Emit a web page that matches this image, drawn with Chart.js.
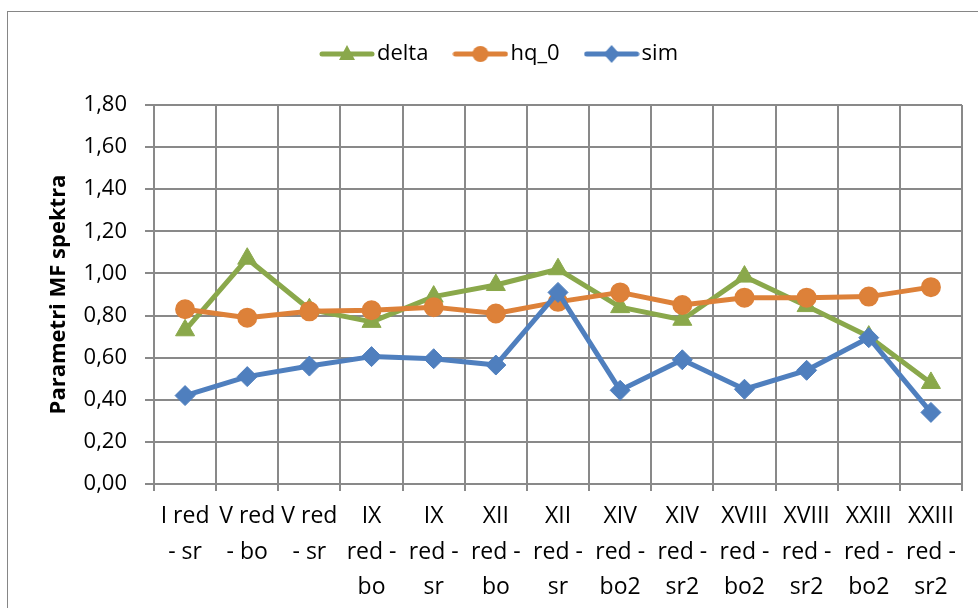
<!DOCTYPE html>
<html>
<head>
<meta charset="utf-8">
<script src="https://cdn.jsdelivr.net/npm/chart.js@4.4.1/dist/chart.umd.min.js"></script>
<style>
    html, body { margin: 0; padding: 0; background: #fff; overflow: hidden; }
    body { width: 978px; height: 608px; position: relative; }
    #frame { position: absolute; left: 7px; top: 11px; width: 1000px; height: 640px; border: 1px solid #868686; box-sizing: border-box; }
    #wrap { position: absolute; left: 0; top: 0; width: 978px; height: 608px; }
</style>
</head>
<body>
<div id="frame"></div>
<div id="wrap"><canvas id="chartMF" width="978" height="608"></canvas></div>
<script>
// Kategorije (oznake x osi, po redovima)
const kategorije = [
    ['I red', '- sr'],
    ['V red', '- bo'],
    ['V red', '- sr'],
    ['IX', 'red -', 'bo'],
    ['IX', 'red -', 'sr'],
    ['XII', 'red -', 'bo'],
    ['XII', 'red -', 'sr'],
    ['XIV', 'red -', 'bo2'],
    ['XIV', 'red -', 'sr2'],
    ['XVIII', 'red -', 'bo2'],
    ['XVIII', 'red -', 'sr2'],
    ['XXIII', 'red -', 'bo2'],
    ['XXIII', 'red -', 'sr2']
];

// Vrijednosti serija
const deltaVrijednosti = [0.73, 1.07, 0.83, 0.77, 0.89, 0.945, 1.02, 0.84, 0.78, 0.985, 0.845, 0.70, 0.48];
const hq0Vrijednosti   = [0.83, 0.79, 0.82, 0.825, 0.84, 0.81, 0.865, 0.91, 0.85, 0.885, 0.885, 0.89, 0.935];
const simVrijednosti   = [0.42, 0.51, 0.56, 0.605, 0.595, 0.565, 0.91, 0.445, 0.59, 0.45, 0.54, 0.695, 0.34];

// Y os
const yMin = 0;
const yMax = 1.8;
const yKorak = 0.2;

const ZELENA = '#8AA84B';
const NARANCASTA = '#DD8139';
const PLAVA = '#4F7FBE';
const MREZA = '#898989';
const FONT = "'Open Sans', 'Noto Sans', sans-serif";

// Ikona za legendu: linija s markerom u sredini
function napraviIkonu(boja, oblik) {
    const c = document.createElement('canvas');
    c.width = 56;
    c.height = 24;
    const g = c.getContext('2d');
    g.strokeStyle = boja;
    g.fillStyle = boja;
    g.lineWidth = 5;
    g.lineCap = 'round';
    g.beginPath();
    g.moveTo(3, 12);
    g.lineTo(53, 12);
    g.stroke();

    g.beginPath();
    if (oblik === 'triangle') {
        g.moveTo(28, 3);
        g.lineTo(36, 18);
        g.lineTo(20, 18);
        g.closePath();
    } else if (oblik === 'circle') {
        g.arc(28, 12, 8, 0, Math.PI * 2);
    } else {
        g.moveTo(28, 3);
        g.lineTo(36, 12);
        g.lineTo(28, 21);
        g.lineTo(20, 12);
        g.closePath();
    }
    g.fill();
    return c;
}

const ikone = [
    napraviIkonu(ZELENA, 'triangle'),
    napraviIkonu(NARANCASTA, 'circle'),
    napraviIkonu(PLAVA, 'rectRot')
];

// Dodatni razmak ispod legende
const razmakLegende = {
    id: 'razmakLegende',
    beforeLayout(chart) {
        const lg = chart.legend;
        if (lg && !lg._razmak) {
            const fit = lg.fit;
            lg.fit = function () {
                fit.call(this);
                this.height += 30;
            };
            lg._razmak = true;
        }
    }
};

const ctx = document.getElementById('chartMF');

new Chart(ctx, {
    type: 'line',
    data: {
        labels: kategorije,
        datasets: [
            {
                label: 'delta',
                data: deltaVrijednosti,
                borderColor: ZELENA,
                backgroundColor: ZELENA,
                borderWidth: 5,
                borderJoinStyle: 'round',
                pointStyle: 'triangle',
                pointRadius: 11,
                pointBorderWidth: 1,
                pointBackgroundColor: ZELENA,
                pointBorderColor: ZELENA,
                order: 3
            },
            {
                label: 'hq_0',
                data: hq0Vrijednosti,
                borderColor: NARANCASTA,
                backgroundColor: NARANCASTA,
                borderWidth: 5,
                borderJoinStyle: 'round',
                pointStyle: 'circle',
                pointRadius: 9,
                pointBorderWidth: 2,
                pointBackgroundColor: NARANCASTA,
                pointBorderColor: NARANCASTA,
                order: 2
            },
            {
                label: 'sim',
                data: simVrijednosti,
                borderColor: PLAVA,
                backgroundColor: PLAVA,
                borderWidth: 5,
                borderJoinStyle: 'round',
                pointStyle: 'rectRot',
                pointRadius: 10,
                pointBorderWidth: 1,
                pointBackgroundColor: PLAVA,
                pointBorderColor: PLAVA,
                order: 1
            }
        ]
    },
    options: {
        responsive: false,
        animation: false,
        layout: {
            padding: { top: 10, left: 44, right: 16, bottom: 0 }
        },
        plugins: {
            legend: {
                position: 'top',
                labels: {
                    usePointStyle: true,
                    pointStyleWidth: 38,
                    padding: 33,
                    color: '#000',
                    font: { family: FONT, size: 22 },
                    sort: (a, b) => a.datasetIndex - b.datasetIndex,
                    generateLabels(chart) {
                        const items = Chart.defaults.plugins.legend.labels.generateLabels(chart);
                        items.forEach(it => { it.pointStyle = ikone[it.datasetIndex]; });
                        return items;
                    }
                }
            },
            tooltip: { enabled: false }
        },
        scales: {
            x: {
                offset: true,
                grid: { offset: true, color: MREZA, lineWidth: 2, tickLength: 7 },
                border: { color: MREZA, width: 2 },
                ticks: {
                    maxRotation: 0,
                    minRotation: 0,
                    autoSkip: false,
                    padding: 8,
                    color: '#000',
                    font: { family: FONT, size: 23, lineHeight: 1.54 }
                },
                afterFit(scale) { scale.height = 124; }
            },
            y: {
                min: yMin,
                max: yMax,
                ticks: {
                    stepSize: yKorak,
                    padding: 18,
                    color: '#000',
                    font: { family: FONT, size: 22 },
                    callback: v => Number(v).toFixed(2).replace('.', ',')
                },
                grid: { color: MREZA, lineWidth: 2, tickLength: 9 },
                border: { color: MREZA, width: 2 },
                title: {
                    display: true,
                    text: 'Parametri MF spektra',
                    color: '#000',
                    font: { family: FONT, size: 22, weight: 'bold' },
                    padding: { top: 2, bottom: 0 }
                },
                afterFit(scale) { scale.width = 110; }
            }
        }
    },
    plugins: [razmakLegende]
});
</script>
</body>
</html>
